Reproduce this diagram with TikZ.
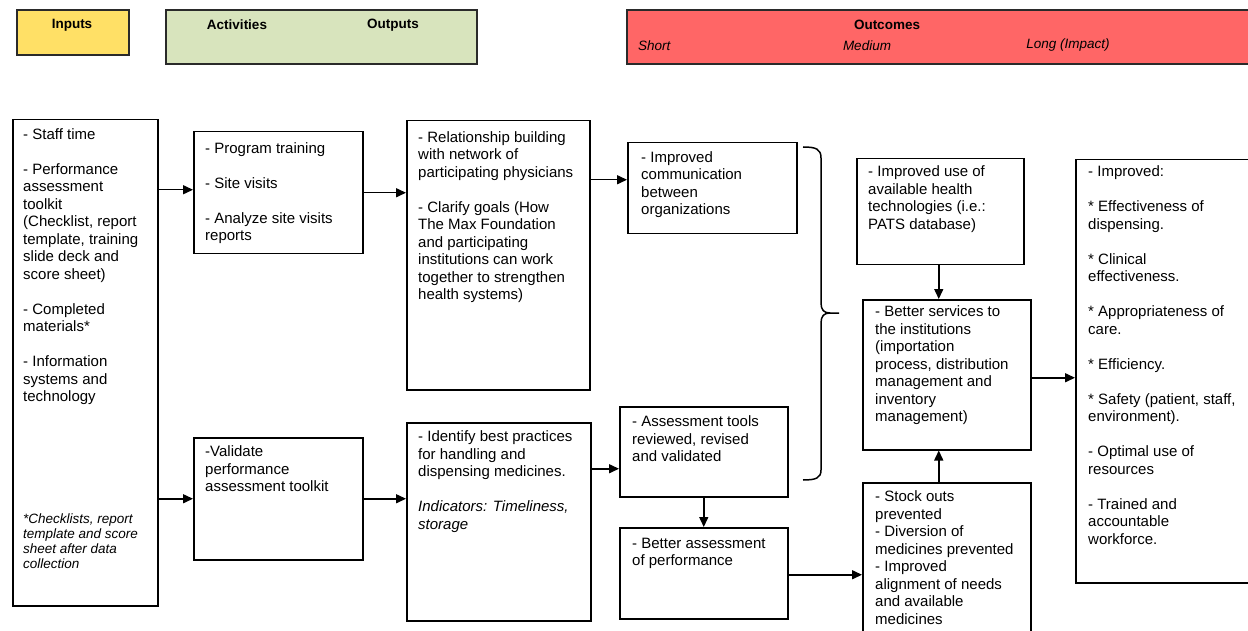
\documentclass[tikz,border=0pt]{standalone}
\usepackage{fontspec}
\setmainfont{Liberation Sans}
\usetikzlibrary{arrows.meta}
\definecolor{hdryellow}{HTML}{FFE066}
\definecolor{hdrgreen}{HTML}{D8E4BD}
\definecolor{hdrred}{HTML}{FF6666}
\definecolor{hdrline}{HTML}{2A2A2A}
\tikzset{
  hdrbox/.style={draw=hdrline, line width=1.7pt, anchor=north west, inner sep=0pt},
  hdrtxt/.style={inner sep=0pt, font=\fontsize{13.5pt}{15pt}\selectfont},
  box/.style={draw=black, line width=1.5pt, anchor=north west, inner sep=0pt},
  txt/.style={anchor=north west, inner sep=0pt, align=left, font=\fontsize{15pt}{17.5pt}\selectfont},
  notetxt/.style={anchor=north west, inner sep=0pt, align=left, font=\fontsize{13.5pt}{15pt}\selectfont\itshape},
  arr/.style={line width=1.5pt, -{Triangle[length=10pt,width=9pt]}},
  bracestyle/.style={line width=1.5pt}
}
\newcommand{\bl}{\\[17.5pt]}
\begin{document}
\begin{tikzpicture}[x=1pt,y=-1pt]
\useasboundingbox (0,0) rectangle (1248,631);
\clip (0,0) rectangle (1248,631);
\fill[white] (0,0) rectangle (1248,631);

% headers
\node[hdrbox, fill=hdryellow, minimum width=112pt, minimum height=45pt] (hin) at (16,9) {};
\node[hdrbox, fill=hdrgreen, minimum width=311pt, minimum height=54pt] (hao) at (165,9) {};
\node[hdrbox, fill=hdrred, minimum width=640pt, minimum height=54pt] (hout) at (626,9) {};
\node[hdrtxt, font=\fontsize{13.5pt}{15pt}\selectfont\bfseries] (tin) at (72,25) {Inputs};
\node[hdrtxt, font=\fontsize{13.5pt}{15pt}\selectfont\bfseries] (tact) at (237,25) {Activities};
\node[hdrtxt, font=\fontsize{13.5pt}{15pt}\selectfont\bfseries] (toutp) at (393,25) {Outputs};
\node[hdrtxt, font=\fontsize{13.5pt}{15pt}\selectfont\bfseries] (toutc) at (887,25) {Outcomes};
\node[hdrtxt, font=\fontsize{13.5pt}{15pt}\selectfont\itshape, anchor=west] (tshort) at (638,45.5) {Short};
\node[hdrtxt, font=\fontsize{13.5pt}{15pt}\selectfont\itshape] (tmed) at (867,45.5) {Medium};
\node[hdrtxt, font=\fontsize{13.5pt}{15pt}\selectfont\itshape] (tlong) at (1068,45.5) {Long (Impact)};

% boxes
\node[box, minimum width=145pt, minimum height=486pt] (inp) at (12,119) {};
\node[box, minimum width=169pt, minimum height=122pt] (act1) at (193,131) {};
\node[box, minimum width=169pt, minimum height=122pt] (act2) at (193,437) {};
\node[box, minimum width=183pt, minimum height=269pt] (out1) at (406,120) {};
\node[box, minimum width=184pt, minimum height=198pt] (out2) at (406,422) {};
\node[box, minimum width=169pt, minimum height=91pt] (comm) at (627,142) {};
\node[box, minimum width=168pt, minimum height=90pt] (tools) at (619,406) {};
\node[box, minimum width=168pt, minimum height=91pt] (better) at (619,527) {};
\node[box, minimum width=167pt, minimum height=106pt] (use) at (856,158) {};
\node[box, minimum width=168pt, minimum height=150pt] (serv) at (862,299) {};
\node[box, minimum width=168pt, minimum height=168pt] (stock) at (862,482) {};
\node[box, minimum width=185pt, minimum height=423pt] (long) at (1075,159) {};

% texts
\node[txt] (inptxt) at (23,126.75) {\strut- Staff time\bl
- Performance\\assessment\\toolkit\\(Checklist, report\\template, training\\slide deck and\\score sheet)\bl
- Completed\\materials*\bl
- Information\\systems and\\technology};
\node[notetxt] (note) at (23,512.5) {\strut*Checklists, report\\template and score\\sheet after data\\collection};
\node[txt] (act1txt) at (205,140.75) {\strut- Program training\bl - Site visits\bl - Analyze site visits\\reports};
\node[txt] (act2txt) at (205,444.5) {\strut-Validate\\performance\\assessment toolkit};
\node[txt] (out1txt) at (418,129.75) {\strut- Relationship building\\with network of\\participating physicians\bl
- Clarify goals (How\\The Max Foundation\\and participating\\institutions can work\\together to strengthen\\health systems)};
\node[txt] (out2txt) at (418,429.5) {\strut- Identify best practices\\for handling and\\dispensing medicines.\bl
{\itshape Indicators: Timeliness,}\\{\itshape storage}};
\node[txt] (commtxt) at (641,149.75) {\strut- Improved\\communication\\between\\organizations};
\node[txt] (toolstxt) at (632,414.5) {\strut- Assessment tools\\reviewed, revised\\and validated};
\node[txt] (bettertxt) at (632,535.75) {\strut- Better assessment\\of performance};
\node[txt] (usetxt) at (868,164.5) {\strut- Improved use of\\available health\\technologies (i.e.:\\PATS database)};
\node[txt] (servtxt) at (875,304.5) {\strut- Better services to\\the institutions\\(importation\\process, distribution\\management and\\inventory\\management)};
\node[txt] (stocktxt) at (875,489.5) {\strut- Stock outs\\prevented\\- Diversion of\\medicines prevented\\- Improved\\alignment of needs\\and available\\medicines};
\node[txt] (longtxt) at (1088,164.5) {\strut- Improved:\bl
* Effectiveness of\\dispensing.\bl
* Clinical\\effectiveness.\bl
* Appropriateness of\\care.\bl
* Efficiency.\bl
* Safety (patient, staff,\\environment).\bl
- Optimal use of\\resources\bl
- Trained and\\accountable\\workforce.};

% connectors
\coordinate (c1) at ([yshift=3pt]act1.west);
\draw[arr] (inp.east |- c1) -- (c1);
\draw[arr] (inp.east |- act2.west) -- (act2.west);
\draw[arr] (act1.east) -- (act1.east -| out1.west);
\draw[arr] (act2.east) -- (act2.east -| out2.west);
\coordinate (c2) at ([yshift=8.5pt]comm.west);
\draw[arr] (out1.east |- c2) -- (c2);
\coordinate (c3) at ([yshift=-17pt]tools.west);
\draw[arr] (out2.east |- c3) -- (c3);
\draw[arr] (tools.south) -- (better.north);
\coordinate (c4) at ([yshift=-1.5pt]better.east);
\draw[arr] (c4) -- (c4 -| stock.west);
\coordinate (c5) at ([xshift=-1.5pt]use.south);
\draw[arr] (c5) -- (c5 |- serv.north);
\draw[arr] (c5 |- stock.north) -- (c5 |- serv.south);
\coordinate (c6) at ([yshift=-3pt]serv.east);
\draw[arr] (c6) -- (c6 -| long.west);

% brace
\draw[bracestyle] (803,147) .. controls (816,147) and (821,149) .. (821,158) -- (821,303)
  .. controls (821,310) and (824,313) .. (830,313) -- (839,313) -- (830,313)
  .. controls (824,313) and (821,316) .. (821,323) -- (821,470)
  .. controls (821,478) and (816,480) .. (803,480);
\end{tikzpicture}
\end{document}
